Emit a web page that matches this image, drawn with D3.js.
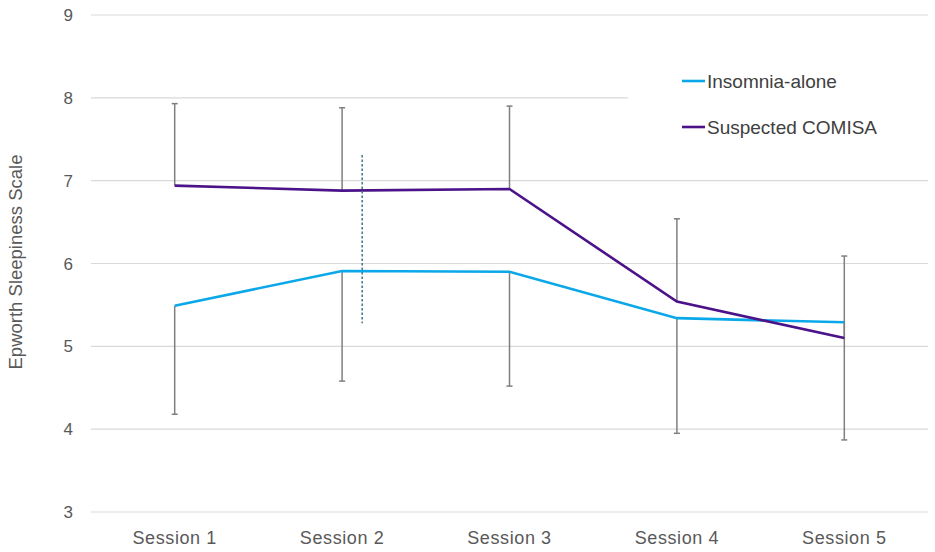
<!DOCTYPE html>
<html>
<head>
<meta charset="utf-8">
<script src="https://cdn.jsdelivr.net/npm/d3@7"></script>
<style>
  body { margin: 0; background: #fff; }
  text { font-family: "Liberation Sans", Arial, sans-serif; }
</style>
</head>
<body>
<svg width="935" height="552"></svg>
<script>
const sessions = ["Session 1", "Session 2", "Session 3", "Session 4", "Session 5"]
const insomniaAlone = [5.49, 5.91, 5.90, 5.34, 5.29]
const insomniaLowerErr = [1.31, 1.33, 1.38, 1.39, 1.42]
const comisa = [6.94, 6.88, 6.90, 5.54, 5.10]
const comisaUpperErr = [0.99, 1.00, 1.00, 1.00, 0.99]
const yTicks = [3, 4, 5, 6, 7, 8, 9]
// stray dashed marker in the figure: position in session units, y range in scale units
const marker = { pos: 2.12, top: 7.31, bottom: 5.28 }

const svg = d3.select('svg')
const left = 91, right = 928

const x = d3.scaleLinear().domain([0.5, 5.5]).range([left, right])
const y = d3.scaleLinear().domain([3, 9]).range([512, 15])

// gridlines
svg.append('g').selectAll('line').data(yTicks).enter().append('line')
    .attr('x1', left).attr('x2', right)
    .attr('y1', d => y(d)).attr('y2', d => y(d))
    .attr('stroke', '#d9d9d9').attr('stroke-width', 1.2)

// y tick labels
svg.append('g').selectAll('text').data(yTicks).enter().append('text')
    .attr('x', 73).attr('y', d => y(d) + 6)
    .attr('text-anchor', 'end')
    .attr('font-size', 17).attr('fill', '#595959')
    .text(d => d)

// x tick labels
svg.append('g').selectAll('text').data(sessions).enter().append('text')
    .attr('x', (d, i) => x(i + 1)).attr('y', 544)
    .attr('text-anchor', 'middle')
    .attr('font-size', 18).attr('letter-spacing', 0.6).attr('fill', '#595959')
    .text(d => d)

// y axis title
svg.append('text')
    .attr('transform', 'translate(22,262) rotate(-90)')
    .attr('text-anchor', 'middle')
    .attr('font-size', 18.5).attr('fill', '#595959')
    .text('Epworth Sleepiness Scale')

// legend box hides part of the grid
svg.append('rect').attr('x', 628).attr('y', 45).attr('width', 305).attr('height', 110).attr('fill', '#fff')

const idx = d3.range(sessions.length)

function errBars(vals, errs, dir) {
    const g = svg.append('g').attr('stroke', '#7f7f7f').attr('stroke-width', 1.5)
    g.selectAll('line.v').data(idx).enter().append('line')
        .attr('x1', i => x(i + 1)).attr('x2', i => x(i + 1))
        .attr('y1', i => y(vals[i])).attr('y2', i => y(vals[i] + dir * errs[i]))
    g.selectAll('line.c').data(idx).enter().append('line')
        .attr('x1', i => x(i + 1) - 3).attr('x2', i => x(i + 1) + 3)
        .attr('y1', i => y(vals[i] + dir * errs[i])).attr('y2', i => y(vals[i] + dir * errs[i]))
}

errBars(insomniaAlone, insomniaLowerErr, -1)
errBars(comisa, comisaUpperErr, 1)

const line = d3.line().x((d, i) => x(i + 1)).y(d => y(d))

svg.append('path').datum(insomniaAlone).attr('d', line)
    .attr('fill', 'none').attr('stroke', '#0aa8e8').attr('stroke-width', 2.6)
svg.append('path').datum(comisa).attr('d', line)
    .attr('fill', 'none').attr('stroke', '#4b128a').attr('stroke-width', 2.6)

// dashed marker
svg.append('line')
    .attr('x1', x(marker.pos)).attr('x2', x(marker.pos))
    .attr('y1', y(marker.top)).attr('y2', y(marker.bottom))
    .attr('stroke', '#3f7389').attr('stroke-width', 1.5).attr('stroke-dasharray', '2.5,2')

// legend
const legend = [
    { name: 'Insomnia-alone', color: '#0aa8e8', y: 81 },
    { name: 'Suspected COMISA', color: '#4b128a', y: 127 }
]
const lg = svg.append('g').selectAll('g').data(legend).enter().append('g')
lg.append('line').attr('x1', 682).attr('x2', 705).attr('y1', d => d.y).attr('y2', d => d.y)
    .attr('stroke', d => d.color).attr('stroke-width', 2.6)
lg.append('text').attr('x', 707).attr('y', d => d.y + 7)
    .attr('font-family', '"Open Sans", sans-serif')
    .attr('font-size', 19).attr('fill', '#404040')
    .text(d => d.name)
</script>
</body>
</html>
